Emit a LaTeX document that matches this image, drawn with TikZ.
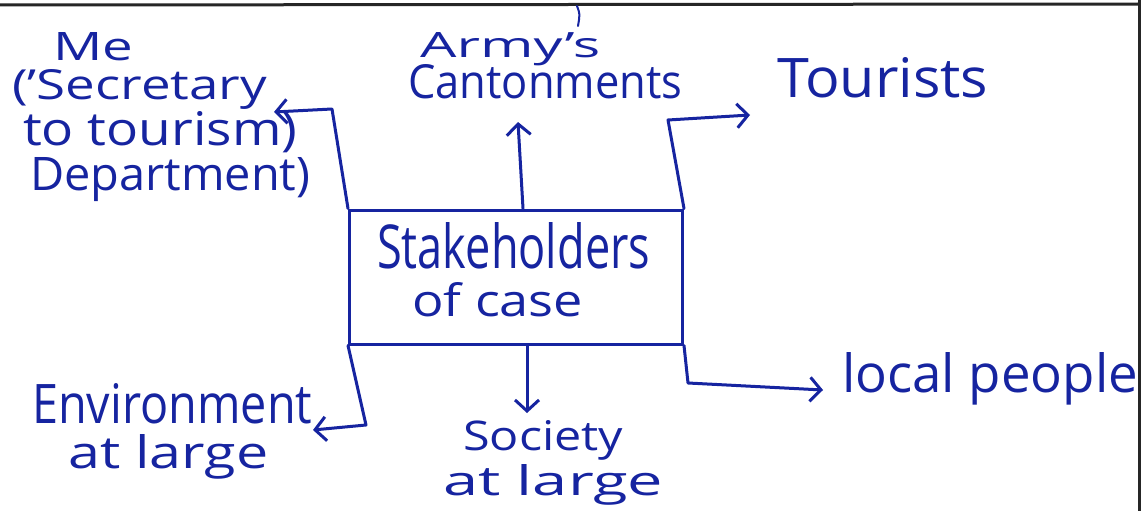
\documentclass[tikz,border=0pt]{standalone}
\usepackage{fontspec}
\setmainfont{Open Sans}
\usetikzlibrary{arrows.meta}
\definecolor{ink}{RGB}{22,36,160}
\tikzset{
  inkline/.style={draw=ink, line width=3pt, line cap=round, line join=round},
  inkarr/.style={inkline, -{Straight Barb[length=11pt,width=24pt]}},
  lbl/.style={anchor=base west, inner sep=0pt, text=ink},
  frameline/.style={draw=black!85, line width=3pt},
  centrebox/.style={draw=ink, line width=3pt, minimum width=333pt, minimum height=134pt, inner sep=0pt}
}
\newcommand\fitwh[3]{\resizebox{#1pt}{#2pt}{#3}}
\begin{document}
\begin{tikzpicture}[x=1pt,y=-1pt]
\useasboundingbox (0,0) rectangle (1142,511);
\fill[white] (0,0) rectangle (1142,511);
\draw[frameline] (0,5) -- (1139,4);
\draw[frameline] (1139,0) -- (1139,511);
\draw[inkline, line width=2pt] (577,6) .. controls (580,14) .. (578,26);

% labels
\node[lbl] (me1) at (53,60) {\fitwh{80}{28}{Me}};
\node[lbl] (me2) at (12,99) {\fitwh{255}{30}{('Secretary}};
\node[lbl] (me3) at (23,145) {\fitwh{274}{34}{to tourism)}};
\node[lbl] (me4) at (30,190) {\fitwh{280}{33}{Department)}};
\node[lbl] (army1) at (420,57) {\fitwh{180}{25}{Army's}};
\node[lbl] (army2) at (408,98) {\fitwh{274}{34}{Cantonments}};
\node[lbl] (tour) at (777,97) {\fitwh{211}{40}{Tourists}};
\node[lbl] (st1) at (377,268) {\fitwh{273}{46}{Stakeholders}};
\node[lbl] (st2) at (412,316) {\fitwh{171}{34}{of case}};
\node[lbl] (env1) at (32,423) {\fitwh{280}{40}{Environment}};
\node[lbl] (env2) at (68,468) {\fitwh{200}{34}{at large}};
\node[lbl] (soc1) at (463,450) {\fitwh{160}{30}{Society}};
\node[lbl] (soc2) at (443,495) {\fitwh{220}{31}{at large}};
\node[lbl] (local) at (842,392) {\fitwh{296}{40}{local people}};

% central box
\node[centrebox] (stake) at (516,277) {};

% connector corners and tips
\coordinate (lt) at (332,109);
\coordinate (lb) at (366,425);
\coordinate (metip) at (274,112);
\coordinate (envtip) at (313,430);
\coordinate (armytip) at (518,122);
\coordinate (soctip) at (527,413);
\coordinate (rt) at (668,120);
\coordinate (rb) at (688,383);
\coordinate (tourtip) at (750,115);
\coordinate (localtip) at (823,390);

\draw[inkarr] (stake.north west) -- (lt) -- (metip);
\draw[inkarr] (stake.south west) -- (lb) -- (envtip);
\draw[inkarr] ([xshift=7pt]stake.north) -- (armytip);
\draw[inkarr] ([xshift=11pt]stake.south) -- (soctip);
\draw[inkarr] (stake.north east) -- (rt) -- (tourtip);
\draw[inkarr] (stake.south east) -- (rb) -- (localtip);
\end{tikzpicture}
\end{document}
